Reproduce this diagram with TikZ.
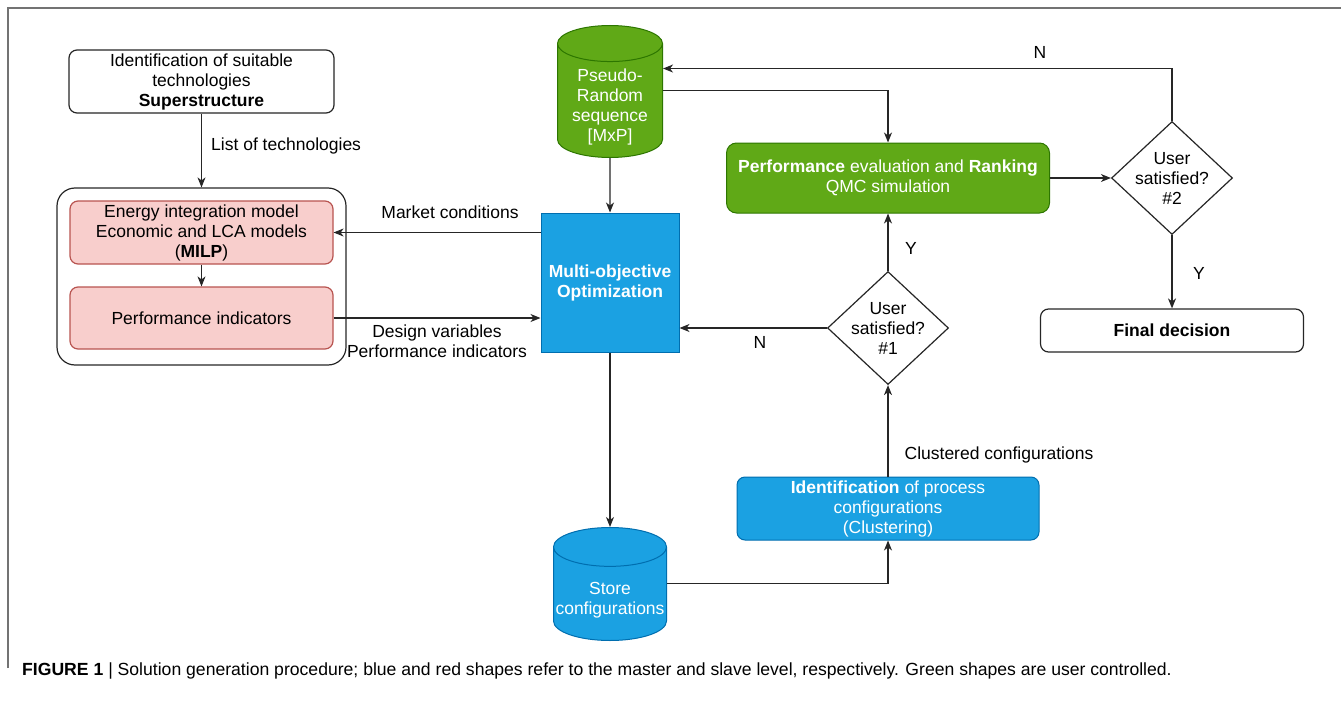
\documentclass[tikz,border=0pt]{standalone}
\usepackage{fontspec}
\setmainfont{Liberation Sans}
\usetikzlibrary{arrows.meta, positioning, shapes.geometric}
\definecolor{grnfill}{HTML}{60A917}
\definecolor{grnline}{HTML}{2D7600}
\definecolor{blufill}{HTML}{1BA1E2}
\definecolor{bluline}{HTML}{006EAF}
\definecolor{redfill}{HTML}{F8CECC}
\definecolor{redline}{HTML}{B85450}
\begin{document}
\begin{tikzpicture}[
  x=1pt, y=-1pt,
  every node/.style={font=\fontsize{17.5}{20}\selectfont},
  wbox/.style={rounded corners=8pt, draw=black!85, line width=1.2pt, fill=white, align=center, minimum width=265pt, minimum height=63pt, inner sep=2pt},
  redbox/.style={rounded corners=8pt, draw=redline, fill=redfill, line width=1.2pt, align=center, minimum width=263pt, minimum height=63pt, inner sep=2pt},
  bluebox/.style={draw=bluline, fill=blufill, text=white, line width=1pt, align=center, inner sep=2pt},
  grnbox/.style={rounded corners=10pt, draw=grnline, fill=grnfill, text=white, line width=1pt, align=center},
  dec/.style={diamond, aspect=1.07, draw=black!85, line width=1.2pt, fill=white, align=center, minimum width=121pt, minimum height=113pt, inner sep=-6pt},
  dbcyl/.style={cylinder, shape border rotate=90, aspect=0.35, line width=1pt, anchor=north, inner sep=1pt},
  cyltxt/.style={inner sep=0pt, text=white, align=center},
  fl/.style={-{Stealth[length=10pt,width=8pt,inset=3pt]}, line width=1.2pt, draw=black!85},
  lbl/.style={inner sep=0pt, align=center}
]
\useasboundingbox (0,0) rectangle (1341,701);
\draw[black!55, line width=2pt] (8,668) -- (8,8) -- (1341,8);

% slave level
\node[wbox] (sup) at (201.5,81.5) {Identification of suitable\\technologies\\\textbf{Superstructure}};
\node[draw=black!85, line width=1.2pt, rounded corners=18pt, minimum width=289pt, minimum height=177pt] (grp) at (201.5,276.5) {};
\node[redbox] (eim) at (201.5,232.5) {Energy integration model\\Economic and LCA models\\(\textbf{MILP})};
\node[redbox, minimum height=62pt] (pind) at (201.5,318) {Performance indicators};

% master level
\node[bluebox, minimum width=138pt, minimum height=139pt] (moo) at (610,282.5) {\textbf{Multi-objective}\\\textbf{Optimization}};
\node[dbcyl, draw=grnline, fill=grnfill, minimum width=105pt, minimum height=132pt] (prs) at (610,25) {\hspace*{101pt}};
\node[cyltxt] (prstxt) at (610,107) {Pseudo-\\Random\\sequence\\{[MxP]}};
\node[grnbox, minimum width=323pt, minimum height=70pt] (perf) at (888,178) {\textbf{Performance} evaluation and \textbf{Ranking}\\QMC simulation};
\node[dec] (us2) at (1172,178) {User\\satisfied?\\\#2};
\node[wbox, minimum width=263pt, minimum height=43pt] (fin) at (1172,330.5) {\textbf{Final decision}};
\node[dec] (us1) at (888,328) {User\\satisfied?\\\#1};
\node[bluebox, rounded corners=8pt, minimum width=302pt, minimum height=63pt] (clus) at (888,508.5) {\textbf{Identification} of process\\configurations\\(Clustering)};
\node[dbcyl, draw=bluline, fill=blufill, minimum width=113pt, minimum height=113pt] (sto) at (610,527) {\hspace*{109pt}};
\node[cyltxt] (stotxt) at (610,600) {Store\\configurations};

% flows
\draw[fl] (sup) -- (grp);
\draw[fl] (eim) -- (pind);
\draw[fl] (moo.west |- eim) -- (eim);
\draw[fl] (pind) -- (moo.west |- pind);
\draw[fl] (prs.south) -- (moo.north);
\draw[fl] ([yshift=12pt]prs.east) -| (perf.north);
\draw[fl] (perf) -- (us2);
\draw[fl] (us2.north) |- ([yshift=34pt]prs.east);
\draw[fl] (us2) -- (fin);
\draw[fl] (us1) -- (perf);
\draw[fl] (us1) -- (us1 -| moo.east);
\draw[fl] (clus) -- (us1);
\draw[fl] (moo) -- (sto);
\draw[fl] ([yshift=12pt]sto.east) -| (clus.south);

% labels
\node[lbl, anchor=west] (llist) at (211,146) {List of technologies};
\node[lbl] (lmkt) at (450,212) {Market conditions};
\node[lbl] (ldes) at (437,341) {Design variables\\Performance indicators};
\node[lbl] (ln2) at (1040,52) {N};
\node[lbl] (ly2) at (1199,273) {Y};
\node[lbl] (ly1) at (911,248) {Y};
\node[lbl] (ln1) at (760,342) {N};
\node[lbl] (lclu) at (999,455) {Clustered configurations};

\node[lbl, anchor=west, font=\fontsize{17.6}{20}\selectfont] (cap) at (22,671) {\textbf{FIGURE 1} | Solution generation procedure; blue and red shapes refer to the master and slave level, respectively. Green shapes are user controlled.};
\end{tikzpicture}
\end{document}
